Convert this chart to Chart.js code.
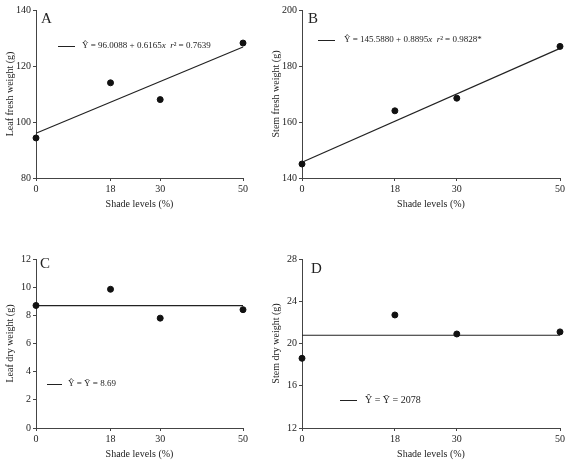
<!DOCTYPE html>
<html><head><meta charset="utf-8">
<script src="https://cdn.jsdelivr.net/npm/chart.js@4"></script>
<style>
body{margin:0;background:#fff;width:567px;height:464px;position:relative;overflow:hidden;font-family:"Liberation Serif",serif;}
canvas{position:absolute;}
.wrap{position:absolute;}
.t{position:absolute;font-size:9px;color:#222;white-space:nowrap;line-height:1;}
.seg{position:absolute;height:1px;background:#222;}
.lab{position:absolute;font-size:15px;color:#222;line-height:1;}
</style></head><body>
<div class="wrap" style="left:0;top:0;width:250px;height:214px"><canvas id="cA"></canvas></div>
<div class="wrap" style="left:266px;top:0;width:301px;height:214px"><canvas id="cB"></canvas></div>
<div class="wrap" style="left:0;top:249px;width:250px;height:215px"><canvas id="cC"></canvas></div>
<div class="wrap" style="left:266px;top:249px;width:301px;height:215px"><canvas id="cD"></canvas></div>

<div class="lab" style="left:41px;top:11px">A</div>
<div class="lab" style="left:308px;top:11px">B</div>
<div class="lab" style="left:40px;top:256px">C</div>
<div class="lab" style="left:311px;top:261px">D</div>

<div class="seg" style="left:58px;top:46px;width:17px"></div>
<div class="t" style="left:82px;top:41px">Ŷ = 96.0088 + 0.6165<i>x</i>&nbsp;&nbsp;<i>r</i>² = 0.7639</div>
<div class="seg" style="left:318px;top:40px;width:17px"></div>
<div class="t" style="left:344px;top:35px">Ŷ = 145.5880 + 0.8895<i>x</i>&nbsp;&nbsp;<i>r</i>² = 0.9828*</div>
<div class="seg" style="left:47px;top:384px;width:15px"></div>
<div class="t" style="left:68px;top:379px">Ŷ = Ȳ = 8.69</div>
<div class="seg" style="left:340px;top:400px;width:17px"></div>
<div class="t" style="left:365px;top:395px;font-size:10px">Ŷ = Ȳ = 2078</div>

<script>
const shadeLevels = [0, 18, 30, 50];
const leafFresh = [94.3, 114, 108, 128.2];
const leafFreshFit = [96.0, 126.8];
const stemFresh = [145, 164, 168.5, 187];
const stemFreshFit = [145.6, 186.3];
const leafDry = [8.7, 9.85, 7.8, 8.4];
const leafDryMean = [8.69, 8.69];
const stemDry = [18.6, 22.7, 20.9, 21.1];
const stemDryMean = [20.78, 20.78];
const fitX = [0, 50];

const yTicksA = [80, 100, 120, 140];
const yTicksB = [140, 160, 180, 200];
const yTicksC = [0, 2, 4, 6, 8, 10, 12];
const yTicksD = [12, 16, 20, 24, 28];

Chart.defaults.font.family = '"Liberation Serif", serif';
Chart.defaults.color = '#222';
Chart.defaults.animation = false;

function make(id, pts, fit, yTicks, yTitle) {
  const ymin = yTicks[0], ymax = yTicks[yTicks.length - 1];
  new Chart(document.getElementById(id), {
    type: 'scatter',
    data: { datasets: [
      { data: pts.map((v, i) => ({x: shadeLevels[i], y: v})), backgroundColor: '#111', borderColor: '#111', pointRadius: 3, clip: false },
      { type: 'line', data: fit.map((v, i) => ({x: fitX[i], y: v})), borderColor: '#222', borderWidth: 1.2, pointRadius: 0, fill: false, clip: false }
    ]},
    options: {
      responsive: true, maintainAspectRatio: false,
      layout: { padding: { top: 10, right: 4, left: 0, bottom: 0 } },
      plugins: { legend: { display: false }, tooltip: { enabled: false } },
      scales: {
        x: { type: 'linear', min: 0, max: 50,
          afterBuildTicks: s => { s.ticks = shadeLevels.map(v => ({value: v})); },
          afterFit: s => { s.height = 36; },
          grid: { drawOnChartArea: false, tickLength: 3, color: '#444' },
          border: { color: '#444', width: 1 },
          ticks: { font: { size: 10 }, padding: 2 },
          title: { display: true, text: 'Shade levels (%)', font: { size: 10 }, padding: { top: 4 } } },
        y: { min: ymin, max: ymax,
          afterBuildTicks: s => { s.ticks = yTicks.map(v => ({value: v})); },
          afterFit: s => { s.width = 36; },
          grid: { drawOnChartArea: false, tickLength: 3, color: '#444' },
          border: { color: '#444', width: 1 },
          ticks: { font: { size: 10 }, padding: 2 },
          title: { display: true, text: yTitle, font: { size: 10 }, padding: { bottom: 2 } } }
      }
    }
  });
}
make('cA', leafFresh, leafFreshFit, yTicksA, 'Leaf fresh weight (g)');
make('cB', stemFresh, stemFreshFit, yTicksB, 'Stem fresh weight (g)');
make('cC', leafDry, leafDryMean, yTicksC, 'Leaf dry weight (g)');
make('cD', stemDry, stemDryMean, yTicksD, 'Stem dry weight (g)');
</script>
</body></html>
